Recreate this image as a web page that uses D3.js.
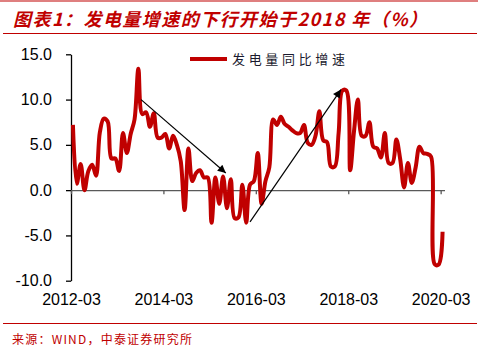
<!DOCTYPE html>
<html lang="zh">
<head>
<meta charset="UTF-8">
<title>发电量增速</title>
<script src="https://d3js.org/d3.v7.min.js"></script>
<style>
  body { margin: 0; background: #fff; }
  svg { display: block; }
</style>
</head>
<body>
<div id="chart"></div>
<script>
// monthly YoY growth of power generation, 2012-03 .. 2020-03
const values = [
  7.2, 0.7, 2.9, 0.0, 2.1, 2.8, 1.6, 6.4, 7.9, 7.6,             // 2012-03..12
  3.5, 3.5, 2.1, 6.3, 4.1, 6.2, 7.8, 13.4, 8.4, 8.6, 7.0, 8.5,   // 2013
  5.8, 5.8, 6.2, 4.6, 6.0, 5.0, 3.2, -2.2, 4.6, 1.0, 1.9, 2.2,   // 2014
  1.4, 1.4, -3.6, 1.4, -1.5, 1.5, -2.0, 1.2, -3.1, -3.0, 0.6, -3.6, // 2015
  0.6, 1.0, 4.1, -1.5, 1.0, 2.5, 7.8, 7.2, 8.1, 7.3, 7.0, 6.6,   // 2016
  6.3, 6.3, 7.2, 5.2, 5.0, 6.0, 8.7, 5.5, 5.3, 2.6, 2.6, 6.3,    // 2017
  11.0, 11.0, 2.2, 6.5, 10.0, 6.0, 6.0, 7.5, 4.8, 4.6, 3.6, 6.3, // 2018
  3.0, 3.0, 5.6, 3.4, 0.3, 3.0, 0.8, 2.5, 4.8, 4.1, 4.0, 3.7,    // 2019
  -8.2, -8.2, -4.6                                               // 2020-01..03
];
const months = d3.timeMonth.range(new Date(2012, 2, 1), new Date(2020, 3, 1));
const tickIndex = [0, 24, 48, 72, 96];
const tickLabels = ["2012-03", "2014-03", "2016-03", "2018-03", "2020-03"];
const yTicks = [-10, -5, 0, 5, 10, 15];
// trend arrows: [month index, value]
const arrows = [
  [[17.7, 10.0], [39.7, 1.9]],
  [[46.0, -3.5], [69.6, 11.1]]
];

const width = 482, height = 352;
const red = "#c00000";
const margin = { top: 54.3, left: 71, right: 37.5, bottom: 71.3 };

const svg = d3.select("#chart").append("svg")
  .attr("width", width)
  .attr("height", height);

// frame lines
svg.append("line").attr("x1", 0).attr("x2", 478).attr("y1", 1).attr("y2", 1)
  .attr("stroke", red).attr("stroke-width", 1.2);
svg.append("line").attr("x1", 3).attr("x2", 477).attr("y1", 33.5).attr("y2", 33.5)
  .attr("stroke", red).attr("stroke-width", 1.2);
svg.append("line").attr("x1", 3).attr("x2", 477).attr("y1", 323.5).attr("y2", 323.5)
  .attr("stroke", red).attr("stroke-width", 1.2);

svg.append("text")
  .attr("x", 13).attr("y", 26)
  .attr("fill", red)
  .attr("font-family", "'Noto Sans CJK SC', sans-serif")
  .attr("font-size", 18).attr("font-weight", "bold").attr("font-style", "italic")
  .attr("textLength", 414).attr("lengthAdjust", "spacing")
  .text("图表1：发电量增速的下行开始于2018 年（%）");

svg.append("text")
  .attr("x", 12).attr("y", 344)
  .attr("fill", red)
  .attr("font-family", "'Noto Sans CJK SC', sans-serif")
  .attr("font-size", 12)
  .attr("textLength", 180).attr("lengthAdjust", "spacing")
  .text("来源：WIND，中泰证券研究所");

const x = d3.scaleLinear()
  .domain([0, values.length])
  .range([margin.left, width - margin.right]);

const y = d3.scaleLinear()
  .domain([-10, 15])
  .range([height - margin.bottom, margin.top]);

// y axis
const yAxis = svg.append("g")
  .attr("transform", `translate(${margin.left},0)`)
  .call(d3.axisLeft(y).tickValues(yTicks).tickFormat(d => d.toFixed(1))
    .tickSize(5).tickSizeOuter(0).tickPadding(14));
yAxis.select(".domain").attr("stroke", "#000").attr("stroke-width", 1.3);
yAxis.selectAll(".tick line").attr("stroke", "#000").attr("stroke-width", 1.3);
yAxis.selectAll("text")
  .attr("font-family", "'Liberation Sans', Arial, sans-serif")
  .attr("font-size", 16).attr("fill", "#000");

// x axis line at zero
const xAxis = svg.append("g")
  .attr("transform", `translate(0,${y(0)})`)
  .call(d3.axisBottom(x).tickValues(tickIndex).tickFormat("").tickSize(4).tickSizeOuter(0));
xAxis.select(".domain").attr("stroke", "#595959").attr("stroke-width", 1.3);
xAxis.selectAll(".tick line").attr("stroke", "#595959").attr("stroke-width", 1.3);

// x labels at the bottom
const xLab = svg.append("g")
  .attr("transform", `translate(0,${height - margin.bottom})`)
  .call(d3.axisBottom(x).tickValues(tickIndex).tickFormat((d, k) => tickLabels[k]).tickSize(0).tickPadding(13));
xLab.select(".domain").remove();
xLab.selectAll("text")
  .attr("font-family", "'Liberation Sans', Arial, sans-serif")
  .attr("font-size", 16).attr("fill", "#000");

// series
const line = d3.line()
  .x((d, i) => x(i + 0.5))
  .y(d => y(d))
  .curve(d3.curveCatmullRom.alpha(0.5));

svg.append("path")
  .datum(values)
  .attr("fill", "none")
  .attr("stroke", red)
  .attr("stroke-width", 4)
  .attr("stroke-linejoin", "round")
  .attr("d", line);

// arrows
svg.append("defs").append("marker")
  .attr("id", "head")
  .attr("viewBox", "0 0 10 10")
  .attr("refX", 10).attr("refY", 5)
  .attr("markerWidth", 10).attr("markerHeight", 8)
  .attr("markerUnits", "userSpaceOnUse")
  .attr("orient", "auto")
  .append("path").attr("d", "M0,0L10,5L0,10Z").attr("fill", "#000");

svg.selectAll(".arrow")
  .data(arrows)
  .enter().append("line")
  .attr("class", "arrow")
  .attr("x1", d => x(d[0][0] + 0.5)).attr("y1", d => y(d[0][1]))
  .attr("x2", d => x(d[1][0] + 0.5)).attr("y2", d => y(d[1][1]))
  .attr("stroke", "#000").attr("stroke-width", 1.2)
  .attr("marker-end", "url(#head)");

// legend
svg.append("line")
  .attr("x1", 190).attr("x2", 227).attr("y1", 59).attr("y2", 59)
  .attr("stroke", red).attr("stroke-width", 4);
svg.append("text")
  .attr("x", 232).attr("y", 64)
  .attr("font-family", "'Noto Sans CJK SC', sans-serif")
  .attr("font-size", 13).attr("fill", "#1a1a2e")
  .attr("textLength", 113).attr("lengthAdjust", "spacing")
  .text("发电量同比增速");
</script>
</body>
</html>
